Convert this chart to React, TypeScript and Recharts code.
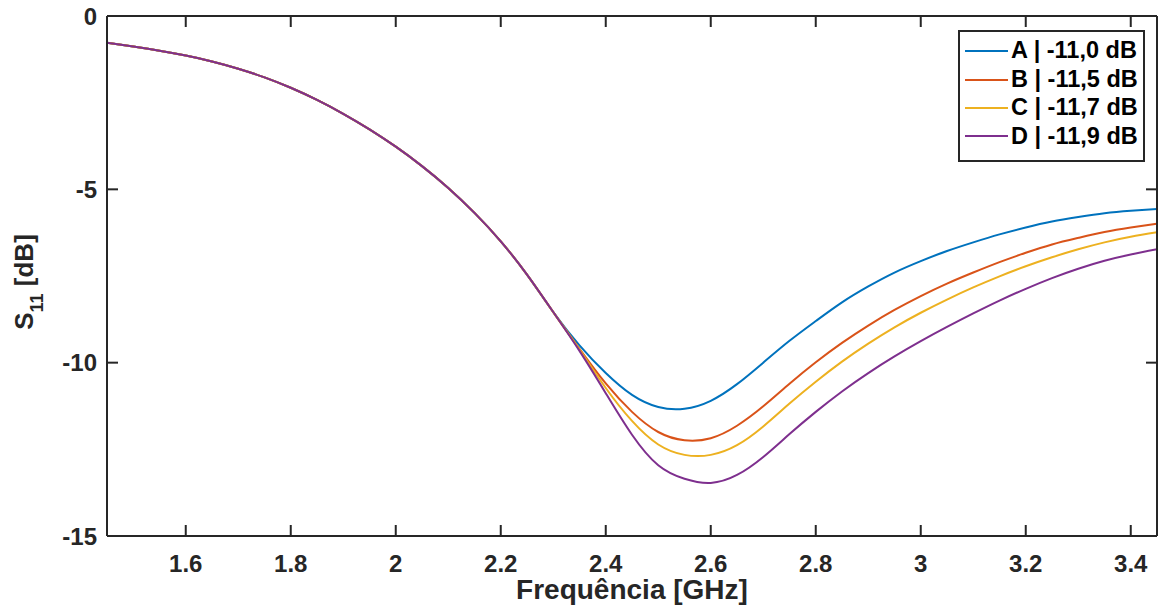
import { LineChart, Line, XAxis, YAxis, Legend } from 'recharts';

// frequency [GHz] and S11 [dB] (0.05 GHz steps)
const FREQ = [
  1.45, 1.5, 1.55, 1.6, 1.65, 1.7, 1.75, 1.8, 1.85, 1.9, 1.95, 2.0, 2.05, 2.1,
  2.15, 2.2, 2.25, 2.3, 2.35, 2.4, 2.45, 2.5, 2.55, 2.6, 2.65, 2.7, 2.75, 2.8,
  2.85, 2.9, 2.95, 3.0, 3.05, 3.1, 3.15, 3.2, 3.25, 3.3, 3.35, 3.4, 3.45,
];

const S11_A = [
  -0.77, -0.88, -1.0, -1.14, -1.31, -1.52, -1.77, -2.07, -2.42, -2.82, -3.27, -3.77, -4.33, -4.96,
  -5.68, -6.5, -7.46, -8.54, -9.5, -10.3, -10.93, -11.28, -11.33, -11.1, -10.62, -10.0, -9.37, -8.8,
  -8.26, -7.8, -7.4, -7.07, -6.78, -6.53, -6.3, -6.1, -5.93, -5.8, -5.69, -5.62, -5.57,
];
const S11_B = [
  -0.77, -0.88, -1.0, -1.14, -1.31, -1.52, -1.77, -2.07, -2.42, -2.82, -3.27, -3.77, -4.33, -4.96,
  -5.68, -6.5, -7.46, -8.54, -9.6, -10.6, -11.42, -12.0, -12.24, -12.18, -11.82, -11.26, -10.61, -9.99,
  -9.43, -8.93, -8.48, -8.08, -7.72, -7.4, -7.1, -6.83, -6.59, -6.4, -6.23, -6.1, -5.99,
];
const S11_C = [
  -0.77, -0.88, -1.0, -1.14, -1.31, -1.52, -1.77, -2.07, -2.42, -2.82, -3.27, -3.77, -4.33, -4.96,
  -5.68, -6.5, -7.46, -8.54, -9.62, -10.73, -11.68, -12.36, -12.66, -12.66, -12.38, -11.84, -11.18, -10.55,
  -9.97, -9.45, -8.98, -8.56, -8.18, -7.83, -7.51, -7.22, -6.96, -6.73, -6.53, -6.37, -6.24,
];
const S11_D = [
  -0.77, -0.88, -1.0, -1.14, -1.31, -1.52, -1.77, -2.07, -2.42, -2.82, -3.27, -3.77, -4.33, -4.96,
  -5.68, -6.5, -7.46, -8.54, -9.66, -10.88, -12.08, -12.96, -13.35, -13.47, -13.24, -12.72, -12.06, -11.42,
  -10.83, -10.3, -9.82, -9.38, -8.97, -8.58, -8.21, -7.87, -7.56, -7.29, -7.06, -6.88, -6.73,
];

const SERIES_KEYS = ['A', 'B', 'C', 'D'];
const SERIES_NAMES = ['A | -11,0 dB', 'B | -11,5 dB', 'C | -11,7 dB', 'D | -11,9 dB'];
const SERIES_COLORS = ['#0072BD', '#D95319', '#EDB120', '#7E2F8E'];

const X_TICKS = [1.6, 1.8, 2, 2.2, 2.4, 2.6, 2.8, 3, 3.2, 3.4];
const Y_TICKS = [-15, -10, -5, 0];

const AXIS_COLOR = '#262626';
const FONT = "'Liberation Sans', Arial, sans-serif";
const TICK_LEN = 11;

const data = FREQ.map((f, i) => ({
  f,
  A: S11_A[i],
  B: S11_B[i],
  C: S11_C[i],
  D: S11_D[i],
}));

const BottomTick = (props: any) => {
  const { x, y, payload } = props;
  return (
    <g>
      <line x1={x} y1={y} x2={x} y2={y - TICK_LEN} stroke={AXIS_COLOR} strokeWidth={2} />
      <text x={x} y={y + 27} textAnchor="middle" dominantBaseline="central"
        fontFamily={FONT} fontWeight="bold" fontSize={24} fill={AXIS_COLOR}>
        {String(payload.value)}
      </text>
    </g>
  );
};

const LeftTick = (props: any) => {
  const { x, y, payload } = props;
  return (
    <g>
      <line x1={x} y1={y} x2={x + TICK_LEN} y2={y} stroke={AXIS_COLOR} strokeWidth={2} />
      <text x={x - 10} y={y} textAnchor="end" dominantBaseline="central"
        fontFamily={FONT} fontWeight="bold" fontSize={24} fill={AXIS_COLOR}>
        {String(payload.value)}
      </text>
    </g>
  );
};

const TopTick = (props: any) => {
  const { x, y } = props;
  return <line x1={x} y1={y} x2={x} y2={y + TICK_LEN} stroke={AXIS_COLOR} strokeWidth={2} />;
};

const RightTick = (props: any) => {
  const { x, y } = props;
  return <line x1={x} y1={y} x2={x - TICK_LEN} y2={y} stroke={AXIS_COLOR} strokeWidth={2} />;
};

const XTitle = (props: any) => {
  const { viewBox } = props;
  return (
    <text x={viewBox.x + viewBox.width / 2} y={599} textAnchor="middle"
      fontFamily={FONT} fontWeight="bold" fontSize={28} fill={AXIS_COLOR}>
      Frequência [GHz]
    </text>
  );
};

const YTitle = () => (
  <text transform="translate(33, 282) rotate(-90)" textAnchor="middle"
    fontFamily={FONT} fontWeight="bold" fontSize={26} fill={AXIS_COLOR}>
    S<tspan fontSize={18} dy={10}>11</tspan>
    <tspan dy={-10}> [dB]</tspan>
  </text>
);

const renderLegend = (props: any) => {
  const { payload } = props;
  return (
    <div style={{
      boxSizing: 'border-box', width: 187, height: 132, border: `2px solid ${AXIS_COLOR}`,
      background: '#fff', paddingTop: 5, paddingLeft: 5,
    }}>
      {payload.map((entry: any) => (
        <div key={entry.value} style={{ display: 'flex', alignItems: 'center', height: 28.4 }}>
          <svg width={43} height={4} style={{ flexShrink: 0 }}>
            <line x1={0} y1={2} x2={43} y2={2} stroke={entry.color} strokeWidth={2} />
          </svg>
          <span style={{
            marginLeft: 3, fontFamily: FONT, fontWeight: 'bold', fontSize: 23.5,
            color: '#000', whiteSpace: 'nowrap', lineHeight: 1,
          }}>
            {entry.value}
          </span>
        </div>
      ))}
    </div>
  );
};

export default function App() {
  return (
    <div style={{ position: 'absolute', left: 0, top: 0, width: 1159, height: 616, background: '#fff' }}>
      <LineChart width={1159} height={616} data={data} margin={{ top: 0, right: 0, bottom: 0, left: 0 }}>
        <XAxis
          dataKey="f"
          type="number"
          domain={[1.45, 3.45]}
          allowDataOverflow
          ticks={X_TICKS}
          height={80}
          tickSize={0}
          tickMargin={0}
          tickLine={false}
          tick={<BottomTick />}
          axisLine={{ stroke: AXIS_COLOR, strokeWidth: 2 }}
          label={<XTitle />}
        />
        <XAxis
          xAxisId="top"
          orientation="top"
          dataKey="f"
          type="number"
          domain={[1.45, 3.45]}
          allowDataOverflow
          ticks={X_TICKS}
          height={16}
          tickSize={0}
          tickMargin={0}
          tickLine={false}
          tick={<TopTick />}
          axisLine={{ stroke: AXIS_COLOR, strokeWidth: 2 }}
        />
        <YAxis
          type="number"
          domain={[-15, 0]}
          allowDataOverflow
          ticks={Y_TICKS}
          width={107}
          tickSize={0}
          tickMargin={0}
          tickLine={false}
          tick={<LeftTick />}
          axisLine={{ stroke: AXIS_COLOR, strokeWidth: 2 }}
          label={<YTitle />}
        />
        <YAxis
          yAxisId="right"
          orientation="right"
          type="number"
          domain={[-15, 0]}
          allowDataOverflow
          ticks={Y_TICKS}
          width={2}
          tickSize={0}
          tickMargin={0}
          tickLine={false}
          tick={<RightTick />}
          axisLine={{ stroke: AXIS_COLOR, strokeWidth: 2 }}
        />
        {SERIES_KEYS.map((key, i) => (
          <Line
            key={key}
            dataKey={key}
            name={SERIES_NAMES[i]}
            type="natural"
            stroke={SERIES_COLORS[i]}
            strokeWidth={2}
            dot={false}
            isAnimationActive={false}
          />
        ))}
        <Legend
          layout="horizontal"
          verticalAlign="middle"
          align="center"
          content={renderLegend}
          wrapperStyle={{ top: 30, left: 958, width: 187 }}
        />
      </LineChart>
    </div>
  );
}
